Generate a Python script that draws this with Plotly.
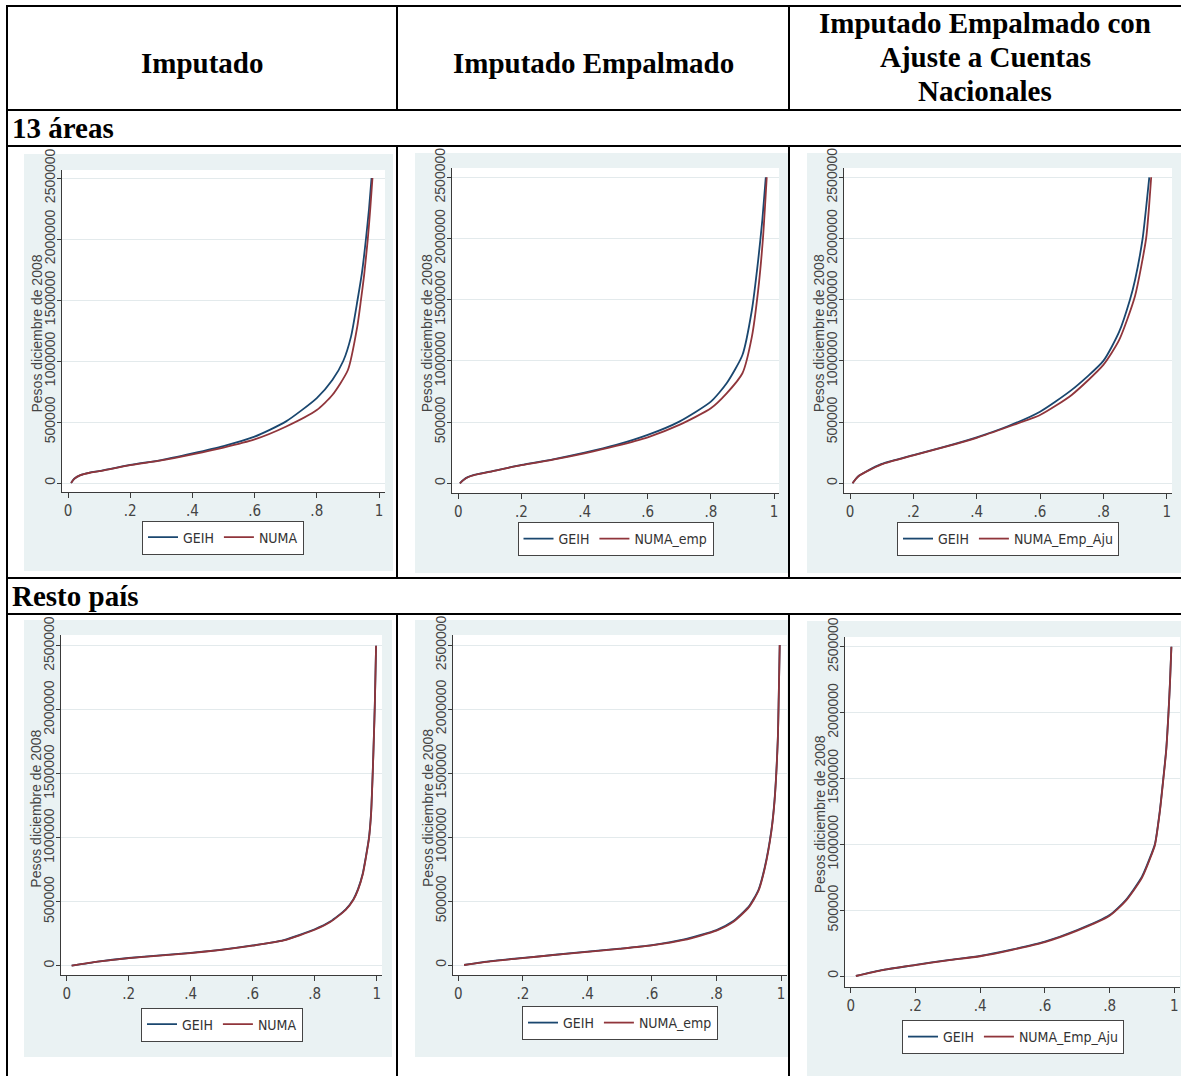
import plotly.graph_objects as go

W, H = 1181, 1076

# ---------------- text content ----------------
col_titles = ["Imputado", "Imputado Empalmado"]
col3_title_lines = ["Imputado Empalmado con", "Ajuste a Cuentas", "Nacionales"]
row_titles = ["13 áreas", "Resto país"]
legend_names = [["GEIH", "NUMA"], ["GEIH", "NUMA_emp"], ["GEIH", "NUMA_Emp_Aju"],
                ["GEIH", "NUMA"], ["GEIH", "NUMA_emp"], ["GEIH", "NUMA_Emp_Aju"]]
y_title = "Pesos diciembre de 2008"
y_tick_vals = [0, 500000, 1000000, 1500000, 2000000, 2500000]
y_tick_text = ["0", "500000", "1000000", "1500000", "2000000", "2500000"]
x_tick_vals = [0, 0.2, 0.4, 0.6, 0.8, 1.0]
x_tick_text = ["0", ".2", ".4", ".6", ".8", "1"]

# ---------------- data (quantile curves) ----------------
# Panel 1: 13 áreas, Imputado
p1_geih_p = [0.01, 0.02, 0.04, 0.07, 0.1, 0.2, 0.3, 0.4, 0.5, 0.6, 0.7, 0.8, 0.85, 0.885, 0.91, 0.931, 0.945, 0.958, 0.968, 0.976]
p1_geih_v = [0, 35e3, 65e3, 85e3, 98e3, 148e3, 188e3, 243e3, 303e3, 380e3, 503e3, 696e3, 844e3, 1000e3, 1200e3, 1500e3, 1720e3, 2000e3, 2250e3, 2500e3]
p1_numa_p = [0.01, 0.02, 0.04, 0.07, 0.1, 0.2, 0.3, 0.4, 0.5, 0.6, 0.7, 0.8, 0.85, 0.9, 0.93, 0.942, 0.952, 0.964, 0.972, 0.979]
p1_numa_v = [0, 34e3, 64e3, 84e3, 97e3, 146e3, 185e3, 235e3, 290e3, 357e3, 461e3, 598e3, 721e3, 926e3, 1280e3, 1500e3, 1700e3, 2000e3, 2250e3, 2500e3]

# Panel 2: 13 áreas, Imputado Empalmado
p2_geih_p = [0.005, 0.015, 0.03, 0.05, 0.1, 0.2, 0.3, 0.4, 0.5, 0.6, 0.7, 0.8, 0.85, 0.9, 0.93, 0.95, 0.963, 0.974]
p2_geih_v = [0, 25e3, 50e3, 68e3, 95e3, 150e3, 196e3, 250e3, 313e3, 395e3, 504e3, 667e3, 817e3, 1048e3, 1416e3, 1825e3, 2150e3, 2500e3]
p2_numa_p = [0.005, 0.015, 0.03, 0.05, 0.1, 0.2, 0.3, 0.4, 0.5, 0.6, 0.7, 0.8, 0.85, 0.9, 0.93, 0.95, 0.965, 0.977]
p2_numa_v = [0, 24e3, 49e3, 67e3, 94e3, 148e3, 193e3, 245e3, 305e3, 376e3, 477e3, 613e3, 735e3, 899e3, 1198e3, 1580e3, 2000e3, 2500e3]

# Panel 3: 13 áreas, Empalmado con ajuste
p3_geih_p = [0.008, 0.018, 0.03, 0.05, 0.1, 0.2, 0.3, 0.4, 0.5, 0.6, 0.7, 0.8, 0.85, 0.884, 0.9, 0.924, 0.935, 0.945]
p3_geih_v = [0, 35e3, 65e3, 95e3, 158e3, 231e3, 300e3, 376e3, 468e3, 585e3, 763e3, 1000e3, 1239e3, 1500e3, 1661e3, 2000e3, 2250e3, 2500e3]
p3_numa_p = [0.008, 0.018, 0.03, 0.05, 0.1, 0.2, 0.3, 0.4, 0.5, 0.6, 0.7, 0.8, 0.85, 0.9, 0.935, 0.944, 0.951]
p3_numa_v = [0, 34e3, 63e3, 93e3, 155e3, 228e3, 297e3, 372e3, 462e3, 558e3, 722e3, 967e3, 1171e3, 1530e3, 2000e3, 2250e3, 2500e3]

# Panel 4: Resto país, Imputado
p4_geih_p = [0.016, 0.1, 0.2, 0.3, 0.4, 0.5, 0.6, 0.7, 0.8, 0.85, 0.9, 0.925, 0.94, 0.955, 0.965, 0.975, 0.982, 0.987, 0.991, 0.994, 0.998]
p4_geih_v = [0, 32e3, 60e3, 80e3, 100e3, 125e3, 158e3, 200e3, 285e3, 345e3, 440e3, 520e3, 600e3, 720e3, 850e3, 1000e3, 1200e3, 1500e3, 1800e3, 2050e3, 2500e3]
p4_numa_p = [0.016, 0.1, 0.2, 0.3, 0.4, 0.5, 0.6, 0.7, 0.8, 0.85, 0.9, 0.925, 0.94, 0.955, 0.965, 0.975, 0.982, 0.987, 0.991, 0.994, 0.998]
p4_numa_v = [0, 31e3, 59e3, 79e3, 99e3, 124e3, 156e3, 197e3, 281e3, 341e3, 436e3, 515e3, 594e3, 712e3, 842e3, 990e3, 1190e3, 1490e3, 1790e3, 2040e3, 2500e3]

# Panel 5: Resto país, Imputado Empalmado
p5_geih_p = [0.018, 0.1, 0.2, 0.3, 0.4, 0.5, 0.6, 0.7, 0.8, 0.85, 0.9, 0.93, 0.95, 0.97, 0.98, 0.99, 0.993, 0.996]
p5_geih_v = [0, 30e3, 55e3, 80e3, 104e3, 128e3, 156e3, 200e3, 273e3, 339e3, 456e3, 586e3, 768e3, 1050e3, 1290e3, 1760e3, 2100e3, 2500e3]
p5_numa_p = [0.018, 0.1, 0.2, 0.3, 0.4, 0.5, 0.6, 0.7, 0.8, 0.85, 0.9, 0.93, 0.95, 0.97, 0.98, 0.99, 0.993, 0.996]
p5_numa_v = [0, 29e3, 54e3, 79e3, 102e3, 126e3, 153e3, 196e3, 268e3, 333e3, 450e3, 578e3, 758e3, 1040e3, 1280e3, 1750e3, 2090e3, 2500e3]

# Panel 6: Resto país, Empalmado con ajuste
p6_geih_p = [0.016, 0.1, 0.2, 0.3, 0.4, 0.5, 0.6, 0.7, 0.8, 0.85, 0.9, 0.93, 0.94, 0.955, 0.966, 0.975, 0.982, 0.987, 0.991]
p6_geih_v = [0, 46e3, 84e3, 121e3, 152e3, 202e3, 261e3, 349e3, 463e3, 577e3, 754e3, 931e3, 1000e3, 1250e3, 1500e3, 1720e3, 2000e3, 2250e3, 2500e3]
p6_numa_p = [0.016, 0.1, 0.2, 0.3, 0.4, 0.5, 0.6, 0.7, 0.8, 0.85, 0.9, 0.93, 0.94, 0.955, 0.966, 0.975, 0.982, 0.987, 0.991]
p6_numa_v = [0, 45e3, 83e3, 119e3, 150e3, 199e3, 257e3, 344e3, 457e3, 570e3, 745e3, 922e3, 992e3, 1240e3, 1490e3, 1710e3, 1990e3, 2240e3, 2500e3]

panel_data = [
    (p1_geih_p, p1_geih_v, p1_numa_p, p1_numa_v),
    (p2_geih_p, p2_geih_v, p2_numa_p, p2_numa_v),
    (p3_geih_p, p3_geih_v, p3_numa_p, p3_numa_v),
    (p4_geih_p, p4_geih_v, p4_numa_p, p4_numa_v),
    (p5_geih_p, p5_geih_v, p5_numa_p, p5_numa_v),
    (p6_geih_p, p6_geih_v, p6_numa_p, p6_numa_v),
]

# ---------------- geometry (pixels) ----------------
plot_px = [(62, 385, 170, 492), (452, 779, 168, 493), (844, 1172, 168, 493),
           (61, 382, 635, 975), (453, 787, 635, 975), (845, 1180, 637, 987)]
calib_px = [(68, 379, 483, 178), (458.3, 774, 483.3, 177.3), (850, 1166.7, 483.3, 177.3),
            (66.7, 376.7, 965.7, 645.7), (458.3, 781, 965, 645), (850.7, 1174.3, 976, 646.7)]
bg_px = [(24, 393, 154, 571), (415, 789, 153, 573), (807, 1181, 153, 573),
         (24, 392, 620, 1057), (415, 788, 620, 1057), (807, 1181, 621, 1076)]
legend_px = [(223, 537.5), (615.5, 539), (1008, 539), (222, 1024.5), (620, 1023), (1013, 1037)]
ytitle_dx = 25   # distance of the rotated axis title left of the axis line

GEIH_C = "#1a476f"
NUMA_C = "#90353b"
BG_C = "#eaf2f3"
GRID_C = "#e3eaec"
AX_C = "#3a3a3a"
NARROW = "Liberation Sans Narrow, DejaVu Sans Condensed, Arial Narrow, Liberation Sans, sans-serif"
SANS = "Liberation Sans, Arial, sans-serif"
SERIF = "Liberation Serif, Times New Roman, serif"


def fx(px):
    return px / W


def fy(py):
    return 1 - py / H


fig = go.Figure()
layout = dict(width=W, height=H, margin=dict(l=0, r=0, t=0, b=0, pad=0, autoexpand=False),
              autosize=False, paper_bgcolor="white", plot_bgcolor="rgba(0,0,0,0)", showlegend=True)
shapes = []
annotations = []

for i in range(6):
    k = "" if i == 0 else str(i + 1)
    gp, gv, npp, nv = panel_data[i]
    leg = "legend" + k
    fig.add_trace(go.Scatter(x=gp, y=gv, mode="lines", name=legend_names[i][0],
                             line=dict(color=GEIH_C, width=1.8, shape="spline", smoothing=0.6),
                             xaxis="x" + k, yaxis="y" + k, legend=leg, hoverinfo="skip"))
    fig.add_trace(go.Scatter(x=npp, y=nv, mode="lines", name=legend_names[i][1],
                             line=dict(color=NUMA_C, width=1.8, shape="spline", smoothing=0.6),
                             xaxis="x" + k, yaxis="y" + k, legend=leg, hoverinfo="skip"))
    x0, x1, y0, y1 = plot_px[i]
    cx0, cx1, cy0, cy25 = calib_px[i]
    xr = [(x0 - cx0) / (cx1 - cx0), (x1 - cx0) / (cx1 - cx0)]
    per = 2500000 / (cy0 - cy25)
    yr = [(cy0 - y1) * per, (cy0 - y0) * per]
    layout["xaxis" + k] = dict(domain=[fx(x0), fx(x1)], range=xr, anchor="y" + k, automargin=False,
                               showline=True, linecolor=AX_C, linewidth=1, ticks="outside",
                               ticklen=5, tickcolor=AX_C, showgrid=False, zeroline=False,
                               tickvals=x_tick_vals, ticktext=x_tick_text,
                               tickfont=dict(family=NARROW, size=15, color="#444"))
    layout["yaxis" + k] = dict(domain=[fy(y1), fy(y0)], range=yr, anchor="x" + k, automargin=False,
                               showline=True, linecolor=AX_C, linewidth=1, ticks="outside",
                               ticklen=4, tickcolor=AX_C, showgrid=True, gridcolor=GRID_C,
                               gridwidth=1, zeroline=False, tickangle=-90, ticklabelstandoff=-4,
                               tickvals=y_tick_vals, ticktext=y_tick_text,
                               tickfont=dict(family=SANS, size=14, color="#444"))
    # rotated y-axis title
    annotations.append(dict(text=y_title, textangle=-90, x=fx(x0 - ytitle_dx), xref="paper",
                            y=fy((cy0 + cy25) / 2 + 3), yref="paper", showarrow=False,
                            xanchor="center", yanchor="middle",
                            font=dict(family=SANS, size=14, color="#444")))
    lx, ly = legend_px[i]
    layout[leg] = dict(x=fx(lx), y=fy(ly), xanchor="center", yanchor="middle",
                       orientation="h", bgcolor="white", bordercolor="#444", borderwidth=1,
                       font=dict(family=NARROW, size=14, color="#333"), itemwidth=30,
                       tracegroupgap=0)
    bx0, bx1, by0, by1 = bg_px[i]
    shapes.append(dict(type="rect", xref="paper", yref="paper", x0=fx(bx0), x1=fx(bx1),
                       y0=fy(by1), y1=fy(by0), fillcolor=BG_C, line=dict(width=0), layer="below"))
    shapes.append(dict(type="rect", xref="paper", yref="paper", x0=fx(x0), x1=fx(x1),
                       y0=fy(y1), y1=fy(y0), fillcolor="white", line=dict(width=0), layer="below"))

# ---------------- table lines ----------------
LW = 2
L, R = 7, 1181
hlines = [6, 110, 146, 578, 614]
for yy in hlines:
    shapes.append(dict(type="line", xref="paper", yref="paper", x0=fx(L - 1), x1=fx(R),
                       y0=fy(yy), y1=fy(yy), line=dict(color="black", width=LW), layer="above"))
shapes.append(dict(type="line", xref="paper", yref="paper", x0=fx(L), x1=fx(L),
                   y0=fy(6), y1=fy(1076), line=dict(color="black", width=LW), layer="above"))
for xx in (397, 789):
    for (ya, yb) in ((6, 110), (146, 578), (614, 1076)):
        shapes.append(dict(type="line", xref="paper", yref="paper", x0=fx(xx), x1=fx(xx),
                           y0=fy(ya), y1=fy(yb), line=dict(color="black", width=LW), layer="above"))

# ---------------- header texts ----------------
HF = dict(family=SERIF, size=29, color="black")
annotations.append(dict(text="<b>%s</b>" % col_titles[0], x=fx(202), y=fy(63), xref="paper", yref="paper",
                        showarrow=False, xanchor="center", yanchor="middle", font=HF))
annotations.append(dict(text="<b>%s</b>" % col_titles[1], x=fx(593), y=fy(63), xref="paper", yref="paper",
                        showarrow=False, xanchor="center", yanchor="middle", font=HF))
for line, yy in zip(col3_title_lines, (23, 57, 91)):
    annotations.append(dict(text="<b>%s</b>" % line, x=fx(985), y=fy(yy), xref="paper", yref="paper",
                            showarrow=False, xanchor="center", yanchor="middle", font=HF))
for t, yy in zip(row_titles, (128, 596)):
    annotations.append(dict(text="<b>%s</b>" % t, x=fx(10), y=fy(yy), xref="paper", yref="paper",
                            showarrow=False, xanchor="left", yanchor="middle", font=HF))

layout["shapes"] = shapes
layout["annotations"] = annotations
fig.update_layout(**layout)
fig.write_html("out.html", config={"displayModeBar": False},
               post_script="document.body.style.margin='0px';document.body.style.overflow='hidden';")
